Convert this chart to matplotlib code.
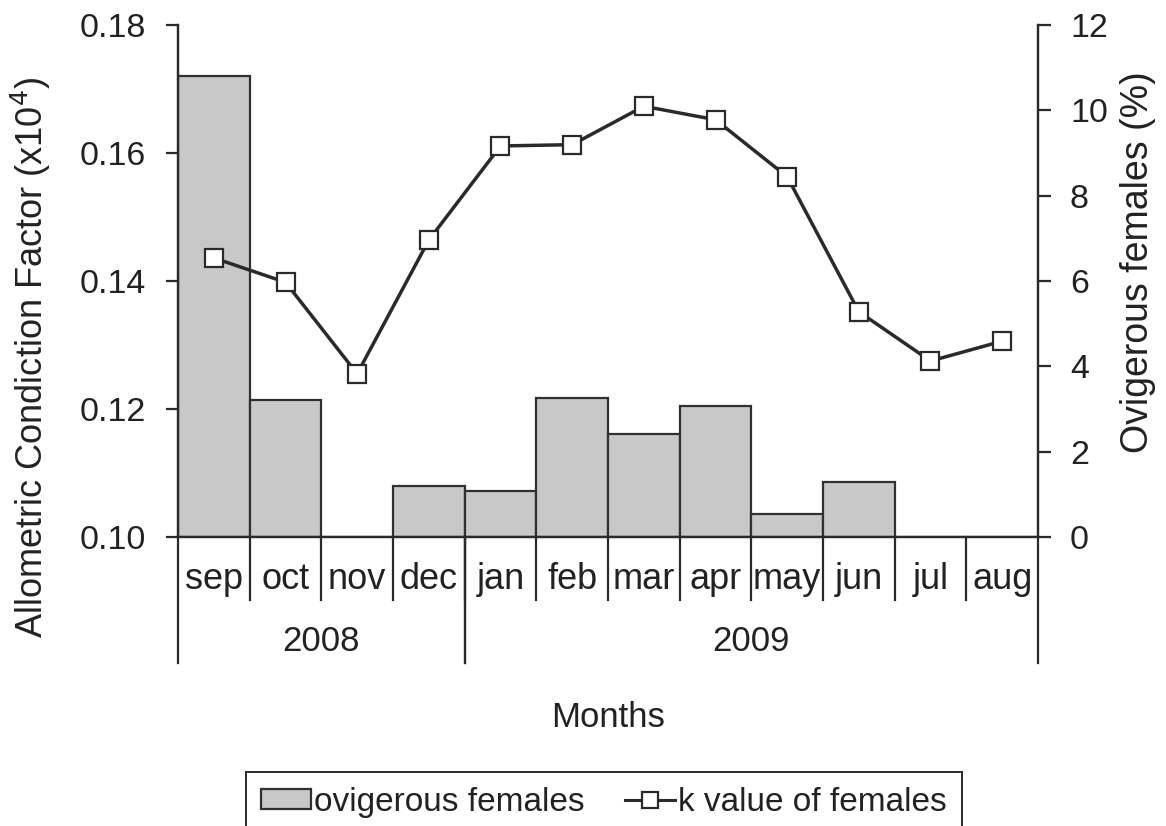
import matplotlib.pyplot as plt
import numpy as np
from matplotlib.patches import Patch
from matplotlib.lines import Line2D

plt.rcParams['font.family'] = ['Liberation Sans', 'DejaVu Sans']

months = ["sep", "oct", "nov", "dec", "jan", "feb", "mar", "apr", "may", "jun", "jul", "aug"]
years = ["2008", "2009"]
year_spans = [(0, 4), (4, 12)]  # month index ranges for each year
ovigerous = [10.8, 3.2, 0.0, 1.2, 1.08, 3.26, 2.41, 3.07, 0.54, 1.29, 0.0, 0.0]
k_value = [0.1436, 0.1398, 0.1255, 0.1464, 0.1611, 0.1613, 0.1673, 0.1652, 0.1563, 0.1352, 0.1275, 0.1306]

TXT = "#222222"
LINE = "#2a2a2a"

fig = plt.figure(figsize=(11.66, 8.26), dpi=100)
ax = fig.add_axes([178 / 1166, 1 - 537 / 826, 860 / 1166, 512 / 826])
ax2 = ax.twinx()

x = np.arange(len(months))

# bars on right axis
ax2.bar(x, ovigerous, width=1.0, color="#c8c8c8", edgecolor="#303030", linewidth=1.6)
ax2.set_ylim(0, 12)
ax2.set_yticks(np.arange(0, 13, 2))
ax2.set_ylabel("Ovigerous females (%)", fontsize=27, color=TXT)
ax2.yaxis.set_label_coords(1.095, 0.537)

# line on left axis, kept on top of the bars
ax.set_zorder(ax2.get_zorder() + 1)
ax.patch.set_visible(False)
ax.plot(x, k_value, color=LINE, lw=2.5, marker="s", markersize=13,
        markerfacecolor="white", markeredgecolor=LINE, markeredgewidth=1.6)
ax.set_ylim(0.10, 0.18)
ax.set_yticks([0.10, 0.12, 0.14, 0.16, 0.18])
ax.set_yticklabels(["%.2f" % v for v in [0.10, 0.12, 0.14, 0.16, 0.18]])
ax.set_xlim(-0.5, len(months) - 0.5)
ax.set_ylabel("Allometric Condiction Factor (x10$^4$)", fontsize=26, color=TXT)
ax.yaxis.set_label_coords(-0.145, 0.35)

for a in (ax, ax2):
    a.spines["top"].set_visible(False)
    for s in a.spines.values():
        s.set_linewidth(1.6)
        s.set_color(LINE)
    a.tick_params(axis="y", labelsize=24.5, length=9, width=1.6, color=LINE, labelcolor=TXT, pad=14)
    a.set_xticks([])

# two-level category axis drawn below the plot
trans = ax.get_xaxis_transform()
for i in range(1, len(months)):
    ax.plot([i - 0.5, i - 0.5], [0, -0.123], transform=trans, color=LINE, lw=1.6, clip_on=False)
for lo, hi in year_spans:
    for edge in (lo, hi):
        ax.plot([edge - 0.5, edge - 0.5], [0, -0.246], transform=trans, color=LINE, lw=1.6, clip_on=False)
for i, m in enumerate(months):
    ax.text(i, -0.083, m, transform=trans, ha="center", va="center", fontsize=26, color=TXT)
for (lo, hi), yr in zip(year_spans, years):
    ax.text((lo + hi - 1) / 2, -0.205, yr, transform=trans, ha="center", va="center", fontsize=25, color=TXT)
ax.text(0.5, -0.352, "Months", transform=ax.transAxes, ha="center", va="center", fontsize=25, color=TXT)

handles = [Patch(facecolor="#c8c8c8", edgecolor="#303030", linewidth=1.6),
           Line2D([], [], color=LINE, lw=2.2, marker="s", markersize=12,
                  markerfacecolor="white", markeredgecolor=LINE, markeredgewidth=1.6)]
leg = fig.legend(handles, ["ovigerous females", "k value of females"], ncol=2,
                 loc="upper center", bbox_to_anchor=(0.518, 1 - 772 / 826),
                 fontsize=24, fancybox=False, edgecolor=LINE, framealpha=1,
                 handlelength=1.5, handleheight=0.55, handletextpad=0.1, columnspacing=1.2,
                 borderpad=0.45, borderaxespad=0)
leg.get_frame().set_linewidth(1.4)
for t in leg.get_texts():
    t.set_color(TXT)

fig.savefig("out.png", dpi=100)
